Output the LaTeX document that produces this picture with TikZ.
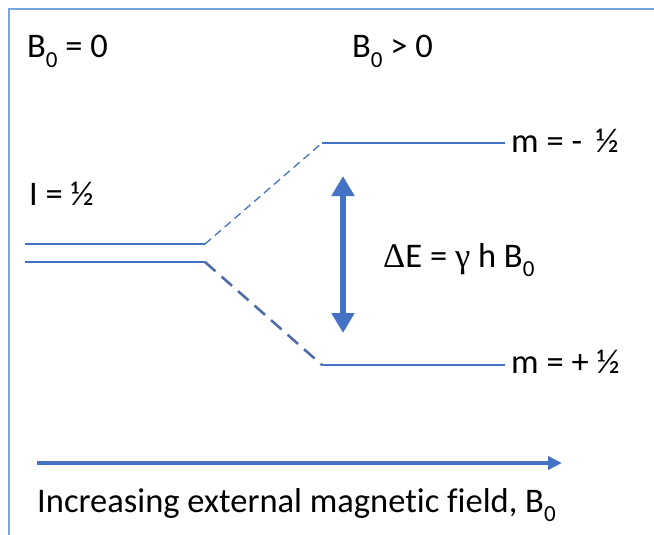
\documentclass[tikz,border=0pt]{standalone}
\usepackage{fontspec}
\setmainfont[Ligatures=NoCommon]{Carlito}
\newfontfamily\symf{Liberation Serif}
\usetikzlibrary{arrows.meta}
\definecolor{lineblue}{HTML}{4472C4}
\definecolor{frameblue}{HTML}{7AA6DE}
\definecolor{dashdark}{HTML}{4F6EA8}
\newcommand{\subz}{\raisebox{-0.28em}{\fontsize{23}{23}\selectfont 0}}
\tikzset{
  lbl/.style={anchor=base west, inner sep=0pt, font=\fontsize{34.5}{40}\selectfont},
  level/.style={draw=lineblue, line width=1.3pt},
}
\begin{document}
\begin{tikzpicture}[x=1pt, y=-1pt]
\useasboundingbox (0,0) rectangle (654,535);
% frame
\draw[frameblue, line width=2pt] (654,9) -- (9,9) -- (9,535);
% labels
\node[lbl] (b0zero) at (27,58) {B\subz{} = 0};
\node[lbl] (b0pos) at (352,58) {B\subz{} > 0};
\node[lbl] (ihalf) at (29,205) {I = ½};
% levels
\coordinate (ua) at (25,244);
\coordinate (ub) at (205,244);
\coordinate (la) at (25,262);
\coordinate (lb) at (205,262);
\coordinate (ta) at (322,143);
\coordinate (tb) at (505,143);
\coordinate (ba) at (322,365);
\coordinate (bb) at (505,365);
\draw[level] (ua) -- (ub);
\draw[level] (la) -- (lb);
\draw[level] (ta) -- (tb);
\draw[level] (ba) -- (bb);
\draw[lineblue, line width=1.3pt, dash pattern=on 8pt off 5pt] (ub) -- (ta);
\draw[dashdark, line width=2.6pt, dash pattern=on 14pt off 8pt] (lb) -- (ba);
\node[lbl] (mminus) at (511,152) {m = -\, ½};
\node[lbl] (mplus) at (511,373) {m = + ½};
% energy gap arrow
\coordinate (gt) at (343,176);
\coordinate (gb) at (343,333);
\draw[lineblue, line width=6.5pt, {Triangle[width=22pt,length=20pt]}-{Triangle[width=22pt,length=20pt]}] (gt) -- (gb);
\node[lbl] (de) at (383,267) {{\symf Δ}E = {\symf γ} h B\subz};
% field arrow
\coordinate (fa) at (37,463);
\coordinate (fb) at (562,463);
\draw[lineblue, line width=3.5pt, -{Triangle[width=13pt,length=14pt]}] (fa) -- (fb);
\node[lbl] (field) at (37,512) {Increasing external magnetic field, B\subz};
\end{tikzpicture}
\end{document}
